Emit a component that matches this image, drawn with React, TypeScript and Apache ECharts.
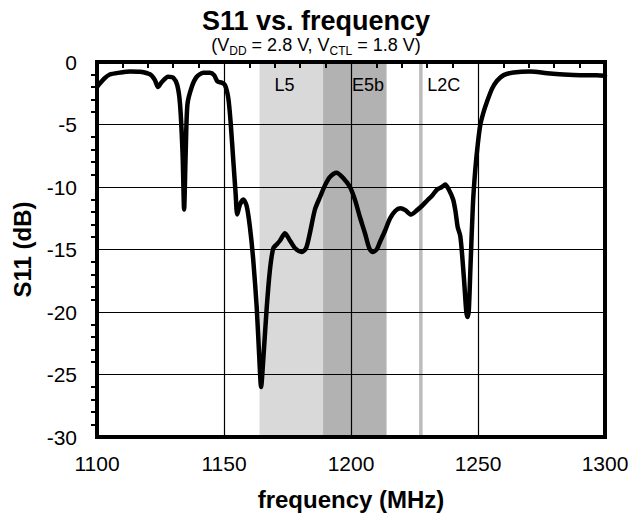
import React, { useEffect, useRef } from "react";
import * as echarts from "echarts";

// ---------------- data ----------------
const freqMHz = [
  1100, 1101.2, 1103, 1105, 1109, 1113, 1117, 1121, 1122.8, 1124, 1125.5, 1128, 1130,
  1131.6, 1132.7, 1133.7, 1134.3, 1134.9, 1135.6, 1137.3, 1139.2, 1141.9, 1144.5,
  1146.1, 1147.4, 1149.1, 1150.4, 1151.7, 1152.6, 1153.7, 1154.6, 1155.2, 1156.3,
  1157.6, 1158.9, 1160.2, 1161.5, 1162.9, 1163.9, 1164.6, 1165.5, 1166.8, 1168.1,
  1169.4, 1170.7, 1172, 1174, 1176, 1178, 1180.6, 1182.3, 1183.8, 1185.8, 1187.8,
  1189.8, 1191.7, 1194.3, 1197, 1199.6, 1201.6, 1203.5, 1205.5, 1207.2, 1208.5,
  1210.1, 1211.4, 1213.4, 1215.4, 1217.5, 1219.4, 1221.4, 1223.6, 1226, 1228,
  1229.9, 1231.9, 1233.9, 1235.8, 1237.1, 1238.5, 1240.2, 1241.1, 1242, 1243,
  1243.7, 1244.6, 1245.4, 1245.9, 1246.4, 1247, 1248, 1248.9, 1249.9, 1250.9,
  1252.2, 1253.5, 1255.5, 1257.5, 1260.1, 1264, 1270.6, 1277.2, 1283.7, 1290.3,
  1296.8, 1300,
];
const s11dB = [
  -2.0, -1.7, -1.3, -1.0, -0.85, -0.75, -0.78, -1.0, -1.45, -2.0, -1.6, -1.17, -1.25,
  -1.85, -3.4, -7.4, -11.8, -7.4, -3.4, -2.0, -1.2, -0.85, -0.85,
  -1.05, -1.55, -1.65, -1.85, -2.9, -4.8, -8.0, -10.6, -12.2, -11.4,
  -11.0, -11.5, -13.2, -15.8, -19.7, -23.7, -26.0, -23.7, -19.7, -16.6,
  -14.9, -14.6, -14.3, -13.7, -14.3, -14.9, -15.2, -14.9, -13.7, -11.8, -10.8,
  -9.85, -9.2, -8.85, -9.3, -10.0, -11.05, -12.4, -13.7, -14.9, -15.2,
  -15.0, -14.4, -13.5, -12.5, -11.9, -11.7, -11.85, -12.2, -11.85, -11.5,
  -11.1, -10.7, -10.2, -10.0, -9.8, -10.2, -11.0, -11.9, -13.2, -13.9,
  -15.3, -17.7, -20.0, -20.4, -19.8, -16.6, -11.4, -8.7, -6.6, -5.05,
  -4.0, -3.2, -2.15, -1.5, -1.05, -0.84, -0.76, -0.9, -1.0, -1.05,
  -1.05, -1.1,
];

const bandNames = ["L5", "E5b", "L2C"];
const bandStartMHz = [1164, 1189, 1226.8];
const bandEndMHz = [1189, 1214, 1228.2];
const bandLabelMHz = [1173.8, 1206.7, 1236.5];
const bandLabelLevel = -1.8;

const xTicks = { min: 1100, max: 1300, step: 50 };
const yTicks = { min: -30, max: 0, step: 5 };

const titleText = "S11 vs. frequency";
const subtitleText = "(V{sub|DD} = 2.8 V, V{sub|CTL} = 1.8 V)";
const xAxisName = "frequency (MHz)";
const yAxisName = "S11 (dB)";

// ---------------- styles ----------------
const FONT = "'Liberation Sans', Arial, sans-serif";
const BAND_COLORS = ["#d9d9d9", "#b2b2b2", "#bdbdbd"];

export default function App() {
  const ref = useRef<HTMLDivElement>(null);

  useEffect(() => {
    if (!ref.current) return;
    const chart = echarts.init(ref.current, null, { renderer: "svg" });

    const lineData = freqMHz.map((f, i) => [f, s11dB[i]]);
    const bandData = bandNames.map((_, i) => [bandStartMHz[i], bandEndMHz[i], i]);
    const labelData = bandNames.map((n, i) => [bandLabelMHz[i], bandLabelLevel, n]);

    chart.setOption({
      animation: false,
      backgroundColor: "#fff",
      textStyle: { fontFamily: FONT },
      title: {
        text: titleText,
        subtext: subtitleText,
        left: "center",
        top: 2,
        itemGap: 0,
        textStyle: { fontFamily: FONT, fontSize: 27, fontWeight: "bold", color: "#000", lineHeight: 28 },
        subtextStyle: {
          fontFamily: FONT,
          fontSize: 18,
          color: "#000",
          lineHeight: 20,
          rich: {
            sub: { fontFamily: FONT, fontSize: 12, color: "#000", verticalAlign: "bottom", lineHeight: 12, padding: [0, 0, -2, 0] },
          },
        },
      },
      grid: {
        left: 97,
        right: 27,
        top: 62,
        bottom: 80,
        show: true,
        borderColor: "#000",
        borderWidth: 4,
        backgroundColor: "transparent",
      },
      xAxis: {
        type: "value",
        min: xTicks.min,
        max: xTicks.max,
        interval: xTicks.step,
        name: xAxisName,
        nameLocation: "middle",
        nameGap: 50,
        nameTextStyle: { fontFamily: FONT, fontSize: 24, fontWeight: "bold", color: "#000" },
        axisLine: { show: false },
        axisTick: { show: false },
        minorTick: { show: true, splitNumber: 5, length: 6, lineStyle: { color: "#000", width: 2 } },
        axisLabel: { fontFamily: FONT, fontSize: 21, color: "#000", margin: 16, formatter: (v: number) => String(v) },
        splitLine: { show: true, lineStyle: { color: "#000", width: 1.2 } },
      },
      yAxis: {
        type: "value",
        min: yTicks.min,
        max: yTicks.max,
        interval: yTicks.step,
        name: yAxisName,
        nameLocation: "middle",
        nameGap: 63,
        nameTextStyle: { fontFamily: FONT, fontSize: 24, fontWeight: "bold", color: "#000" },
        axisLine: { show: false },
        axisTick: { show: false },
        minorTick: { show: true, splitNumber: 5, length: 6, lineStyle: { color: "#000", width: 2 } },
        axisLabel: { fontFamily: FONT, fontSize: 21, color: "#000", margin: 20, formatter: (v: number) => String(v) },
        splitLine: { show: true, lineStyle: { color: "#000", width: 1.2 } },
      },
      series: [
        {
          type: "custom",
          name: "bands",
          z: -1,
          silent: true,
          data: bandData,
          encode: { x: [0, 1] },
          renderItem: (params: any, api: any) => {
            const p0 = api.coord([api.value(0), yTicks.max]);
            const p1 = api.coord([api.value(1), yTicks.min]);
            const idx = api.value(2);
            return {
              type: "rect",
              shape: { x: p0[0], y: p0[1], width: p1[0] - p0[0], height: p1[1] - p0[1] },
              style: { fill: BAND_COLORS[idx] },
            };
          },
        },
        {
          type: "custom",
          name: "bandLabels",
          z: 3,
          silent: true,
          data: labelData,
          encode: { x: 0, y: 1 },
          renderItem: (params: any, api: any) => {
            const p = api.coord([api.value(0), api.value(1)]);
            return {
              type: "text",
              x: p[0],
              y: p[1],
              style: {
                text: bandNames[params.dataIndex],
                fontFamily: FONT,
                fontSize: 18,
                fill: "#000",
                align: "center",
                verticalAlign: "middle",
              },
            };
          },
        },
        {
          type: "line",
          name: "S11",
          z: 4,
          data: lineData,
          showSymbol: false,
          smooth: 0.25,
          lineStyle: { color: "#000", width: 4.5, join: "round", cap: "round" },
        },
      ],
    });

    return () => chart.dispose();
  }, []);

  return <div ref={ref} style={{ width: 632, height: 517, position: "absolute", left: 0, top: 0 }} />;
}
